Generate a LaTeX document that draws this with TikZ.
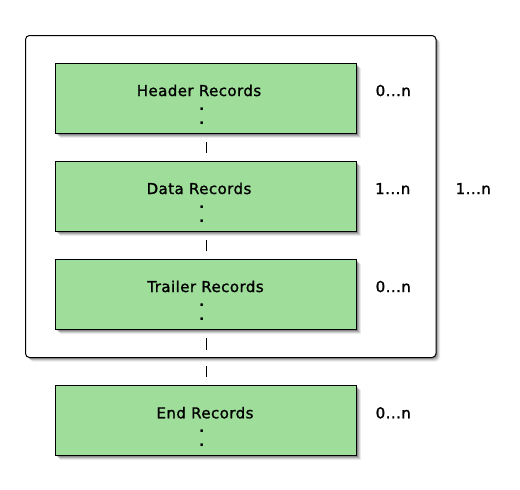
\documentclass[tikz,border=0pt]{standalone}
\usepackage{fontspec}
\setmainfont{DejaVu Sans}
\newfontfamily\labelfont[LetterSpace=3,FakeBold=1.3]{DejaVu Sans}
\begin{document}
\begin{tikzpicture}[x=1pt,y=-1pt]
\definecolor{boxgreen}{RGB}{158,222,154}
\tikzset{
  recbox/.style={draw=black, line width=1pt, fill=boxgreen, minimum width=301pt, minimum height=70pt, inner sep=0pt, anchor=north west},
  grpbox/.style={draw=black, line width=1pt, fill=white, rounded corners=4pt, minimum width=410.5pt, minimum height=322pt, inner sep=0pt, anchor=north west},
  txt/.style={font=\labelfont\fontsize{15}{15}\selectfont, anchor=base, inner sep=0pt},
  dotmark/.style={font=\bfseries\fontsize{14}{14}\selectfont, anchor=base, inner sep=0pt},
  mult/.style={font=\labelfont\fontsize{15}{15}\selectfont, anchor=base west, inner sep=0pt},
  conn/.style={draw=black, line width=1pt, shorten <=8pt, shorten >=8pt},
}
\newcommand{\mysoftshadow}[5][0pt]{%
  \foreach \d/\o in {4.5/0.08,3.5/0.12,2.5/0.16,1.5/0.2}{%
    \fill[black,opacity=\o,rounded corners=#1] ({#2+\d},{#3+\d}) rectangle ({#4+\d},{#5+\d});
  }%
}
\useasboundingbox (0,0) rectangle (520,490);
\fill[white] (0,0) rectangle (520,490);
% outer group
\mysoftshadow[4pt]{25}{35}{435.5}{357}
\node[grpbox] (outer) at (25,35) {};
% boxes
\mysoftshadow{55}{63}{356}{133}
\node[recbox] (hdr) at (55,63) {};
\mysoftshadow{55}{161}{356}{231}
\node[recbox] (dat) at (55,161) {};
\mysoftshadow{55}{259}{356}{329}
\node[recbox] (trl) at (55,259) {};
\mysoftshadow{55}{385}{356}{455}
\node[recbox] (endr) at (55,385) {};
% texts
\node[txt] (hdrT) at (199,96) {Header Records};
\node[dotmark] (hdrD1) at (201.7,110.5) {.};
\node[dotmark] (hdrD2) at (201.7,124) {.};
\node[txt] (datT) at (199,194) {Data Records};
\node[dotmark] (datD1) at (201.7,208.5) {.};
\node[dotmark] (datD2) at (201.7,222) {.};
\node[txt] (trlT) at (205.5,292) {Trailer Records};
\node[dotmark] (trlD1) at (201.7,306.5) {.};
\node[dotmark] (trlD2) at (201.7,320) {.};
\node[txt] (endT) at (205,418.3) {End Records};
\node[dotmark] (endD1) at (201.7,432.5) {.};
\node[dotmark] (endD2) at (201.7,446) {.};
% multiplicities
\node[mult] (mH) at (375.5,96) {0...n};
\node[mult] (mD) at (375,194) {1...n};
\node[mult] (mG) at (455.5,194) {1...n};
\node[mult] (mT) at (375.5,292) {0...n};
\node[mult] (mE) at (375.5,418.3) {0...n};
% connectors
\coordinate (gb) at (trl.south |- outer.south);
\draw[conn] (hdr.south) -- (dat.north);
\draw[conn] (dat.south) -- (trl.north);
\draw[conn] (trl.south) -- (gb);
\draw[conn] (gb) -- (endr.north);
\end{tikzpicture}
\end{document}
